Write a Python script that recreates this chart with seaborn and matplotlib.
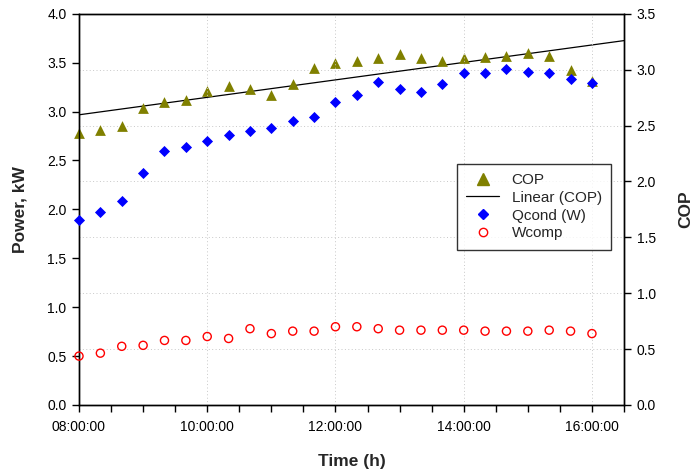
import numpy as np
import pandas as pd
import matplotlib
matplotlib.use("Agg")
import matplotlib.pyplot as plt
import seaborn as sns
from matplotlib.ticker import MultipleLocator, FuncFormatter
from matplotlib.lines import Line2D

# данные (шаг 20 минут)
times = ["08:00", "08:20", "08:40", "09:00", "09:20", "09:40", "10:00", "10:20", "10:40",
         "11:00", "11:20", "11:40", "12:00", "12:20", "12:40", "13:00", "13:20", "13:40",
         "14:00", "14:20", "14:40", "15:00", "15:20", "15:40", "16:00"]
cop = [2.43, 2.46, 2.50, 2.66, 2.71, 2.73, 2.81, 2.85, 2.83, 2.77, 2.87, 3.01, 3.06,
       3.08, 3.10, 3.14, 3.10, 3.08, 3.10, 3.11, 3.125, 3.15, 3.125, 3.00, 2.90]
qcond = [1.89, 1.97, 2.09, 2.37, 2.60, 2.64, 2.70, 2.76, 2.80, 2.83, 2.90, 2.94, 3.10,
         3.17, 3.30, 3.23, 3.20, 3.28, 3.39, 3.39, 3.43, 3.40, 3.39, 3.33, 3.29]
wcomp = [0.50, 0.53, 0.60, 0.61, 0.66, 0.66, 0.70, 0.68, 0.78, 0.73, 0.755, 0.755, 0.80,
         0.80, 0.78, 0.765, 0.765, 0.765, 0.765, 0.755, 0.755, 0.755, 0.765, 0.755, 0.73]

hours = [int(t[:2]) + int(t[3:]) / 60 for t in times]
df = pd.DataFrame({"hours": hours, "COP": cop, "Qcond": qcond, "Wcomp": wcomp})

sns.set_style("white")
plt.rcParams["font.family"] = ["Liberation Sans", "DejaVu Sans"]

fig = plt.figure(figsize=(6.92, 4.74), dpi=100)
ax = fig.add_axes([79 / 692, 69 / 474, 545 / 692, (405 - 13.7) / 474])
ax2 = ax.twinx()
ax.set_zorder(ax2.get_zorder() + 1)
ax.patch.set_visible(False)

grid_kw = dict(color="#c8c8c8", linestyle=(0, (1, 2.5)), linewidth=0.7)

# правая ось: COP и линейный тренд
ax2.grid(axis="y", **grid_kw)
sns.scatterplot(data=df, x="hours", y="COP", ax=ax2, marker="^", s=60,
                color="#808000", edgecolor="#808000", linewidth=0, zorder=3,
                legend=False, clip_on=False)
k, b = np.polyfit(df["hours"], df["COP"], 1)
xs = np.array([8.0, 16.5])
ax2.plot(xs, k * xs + b, color="black", linewidth=0.9, zorder=2)

# левая ось: мощности
ax.grid(axis="x", **grid_kw)
sns.scatterplot(data=df, x="hours", y="Qcond", ax=ax, marker="D", s=32,
                color="#0000ff", edgecolor="#0000ff", linewidth=0, zorder=3,
                legend=False, clip_on=False)
sns.scatterplot(data=df, x="hours", y="Wcomp", ax=ax, marker="o", s=34,
                facecolor="none", edgecolor="#ff0000", linewidth=1.0, zorder=3,
                legend=False, clip_on=False)

ax.set_xlim(8, 16.5)
ax.set_ylim(0, 4)
ax2.set_ylim(0, 3.5)
ax.xaxis.set_major_locator(MultipleLocator(2))
ax.xaxis.set_minor_locator(MultipleLocator(0.5))
ax.xaxis.set_major_formatter(FuncFormatter(lambda v, p: f"{int(v):02d}:00:00"))
ax.yaxis.set_major_locator(MultipleLocator(0.5))
ax2.yaxis.set_major_locator(MultipleLocator(0.5))
ax.yaxis.set_major_formatter(FuncFormatter(lambda v, p: f"{v:.1f}"))
ax2.yaxis.set_major_formatter(FuncFormatter(lambda v, p: f"{v:.1f}"))

for a in (ax, ax2):
    for s in a.spines.values():
        s.set_visible(True)
        s.set_color("black")
        s.set_linewidth(1.0)
    a.tick_params(which="both", direction="out", length=5, width=1, colors="black",
                  labelsize=10, pad=4)
ax.tick_params(axis="x", which="minor", length=5, bottom=True)
ax.tick_params(axis="x", which="major", bottom=True, pad=6)
ax.tick_params(axis="y", left=True)
ax2.tick_params(axis="y", right=True)

ax.set_xlabel("Time (h)", fontsize=12.5, fontweight="bold", labelpad=14)
ax.set_ylabel("Power, kW", fontsize=12.5, fontweight="bold", labelpad=14)
ax2.set_ylabel("COP", fontsize=12.5, fontweight="bold", labelpad=16)

handles = [
    Line2D([], [], marker="^", linestyle="none", color="#808000", markersize=8),
    Line2D([], [], color="black", linewidth=0.9),
    Line2D([], [], marker="D", linestyle="none", color="#0000ff", markersize=5.5),
    Line2D([], [], marker="o", linestyle="none", markerfacecolor="none",
           markeredgecolor="#ff0000", markersize=6),
]
labels = ["COP", "Linear (COP)", "Qcond (W)", "Wcomp"]
leg = ax.legend(handles, labels, loc="upper right", bbox_to_anchor=(0.99, 0.636),
                fontsize=11, frameon=True, fancybox=False, edgecolor="black",
                borderpad=0.6, labelspacing=0.25, handlelength=2.2, handletextpad=0.8)
leg.get_frame().set_linewidth(1.0)

fig.savefig("out.png", dpi=100)
